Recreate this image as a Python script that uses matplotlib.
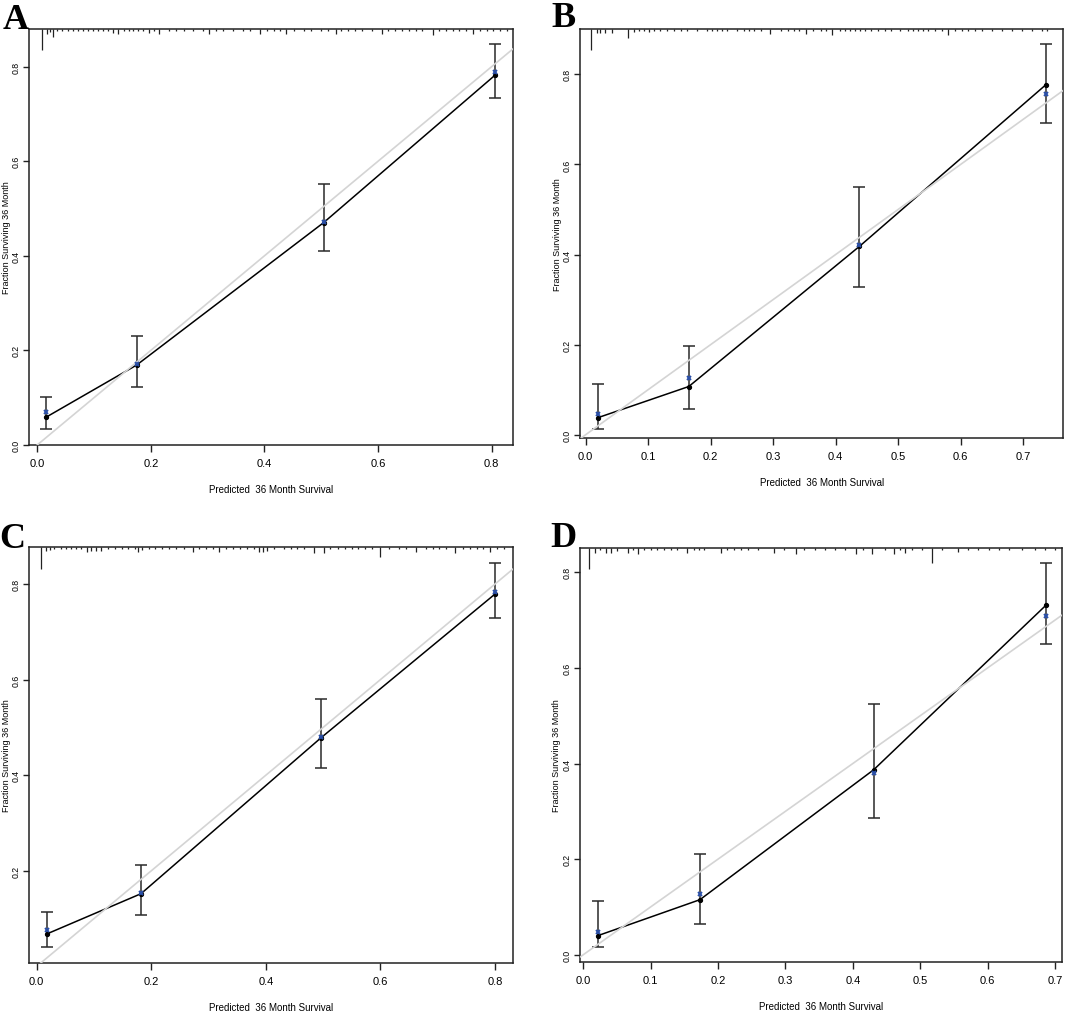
import matplotlib
matplotlib.use("Agg")
import matplotlib.pyplot as plt
import matplotlib.transforms as mtransforms
import logging
logging.getLogger("matplotlib.font_manager").setLevel(logging.ERROR)

# ---------------- data ----------------
panel_labels = ["A", "B", "C", "D"]
x_label = "Predicted  36 Month Survival"
y_label = "Fraction Surviving 36 Month"

predA = [0.016, 0.175, 0.504, 0.806]
obsA = [0.059, 0.169, 0.470, 0.782]
bcA = [0.069, 0.171, 0.472, 0.788]
loA = [0.033, 0.123, 0.411, 0.734]
hiA = [0.102, 0.230, 0.551, 0.848]

predB = [0.020, 0.165, 0.438, 0.7365]
obsB = [0.038, 0.107, 0.418, 0.777]
bcB = [0.047, 0.126, 0.421, 0.757]
loB = [0.013, 0.058, 0.328, 0.692]
hiB = [0.113, 0.197, 0.551, 0.868]

predC = [0.018, 0.182, 0.496, 0.800]
obsC = [0.068, 0.152, 0.478, 0.779]
bcC = [0.076, 0.154, 0.481, 0.783]
loC = [0.040, 0.108, 0.416, 0.729]
hiC = [0.114, 0.213, 0.559, 0.845]

predD = [0.022, 0.173, 0.431, 0.6865]
obsD = [0.040, 0.115, 0.387, 0.731]
bcD = [0.048, 0.127, 0.380, 0.709]
loD = [0.015, 0.064, 0.285, 0.651]
hiD = [0.112, 0.210, 0.524, 0.820]

xticksA = [0.0, 0.2, 0.4, 0.6, 0.8]
xticksB = [0.0, 0.1, 0.2, 0.3, 0.4, 0.5, 0.6, 0.7]
xticksC = [0.0, 0.2, 0.4, 0.6, 0.8]
xticksD = [0.0, 0.1, 0.2, 0.3, 0.4, 0.5, 0.6, 0.7]
yticksA = [0.0, 0.2, 0.4, 0.6, 0.8]
yticksB = [0.0, 0.2, 0.4, 0.6, 0.8]
yticksC = [0.2, 0.4, 0.6, 0.8]
yticksD = [0.0, 0.2, 0.4, 0.6, 0.8]

# spike histogram of predicted values (position, count)
rugA_x = [0.0089, 0.0178, 0.0225, 0.0279, 0.0356, 0.0445, 0.0535, 0.0624, 0.0713, 0.0802,
          0.0892, 0.0981, 0.107, 0.116, 0.125, 0.134, 0.143, 0.152, 0.161, 0.169, 0.178,
          0.187, 0.196, 0.205, 0.214, 0.232, 0.244, 0.259, 0.274, 0.291, 0.303, 0.315,
          0.327, 0.345, 0.363, 0.375, 0.392, 0.404, 0.416, 0.428, 0.437, 0.452, 0.470,
          0.482, 0.500, 0.511, 0.526, 0.535, 0.547, 0.559, 0.571, 0.589, 0.607, 0.618,
          0.630, 0.642, 0.654, 0.666, 0.678, 0.696, 0.708, 0.720, 0.731, 0.743, 0.755,
          0.767, 0.779, 0.791, 0.803, 0.815, 0.827]
rugA_n = [21, 5, 3, 8, 2, 2, 2, 2, 2, 2, 2, 2, 2, 2, 2, 4, 5, 2, 2, 2, 2, 2, 4, 2, 5, 2, 2,
          2, 2, 2, 5, 2, 2, 2, 2, 2, 5, 2, 2, 2, 5, 2, 2, 2, 2, 2, 5, 2, 2, 2, 2, 2, 5, 2,
          2, 2, 2, 2, 2, 6, 2, 2, 2, 2, 2, 5, 2, 2, 2, 2, 2]

rugB_x = [0.0083, 0.0180, 0.0233, 0.0313, 0.0420, 0.0672, 0.0769, 0.0849, 0.0929, 0.1010,
          0.1090, 0.1197, 0.1304, 0.1411, 0.1519, 0.1626, 0.1786, 0.1947, 0.2027, 0.2108,
          0.2188, 0.2268, 0.2429, 0.2536, 0.2617, 0.2697, 0.2804, 0.2949, 0.3126, 0.3233,
          0.3340, 0.3420, 0.3527, 0.3634, 0.3768, 0.3849, 0.3945, 0.4063, 0.4143, 0.4224,
          0.4304, 0.4384, 0.4465, 0.4572, 0.4679, 0.4786, 0.4893, 0.5027, 0.5161, 0.5241,
          0.5322, 0.5402, 0.5482, 0.5589, 0.5697, 0.5793, 0.5911, 0.6018, 0.6125, 0.6232,
          0.6339, 0.6500, 0.6661, 0.6821, 0.6982, 0.7143, 0.7303, 0.7384]
rugB_n = [21, 4, 4, 4, 4, 9, 3, 2, 2, 3, 2, 2, 2, 2, 2, 2, 2, 2, 2, 2, 2, 2, 2, 2, 2, 2, 2,
          5, 2, 2, 2, 2, 5, 2, 2, 2, 6, 2, 2, 2, 2, 2, 2, 2, 2, 2, 2, 2, 2, 2, 2, 2, 2, 2,
          2, 6, 2, 2, 2, 2, 2, 2, 2, 2, 2, 2, 2, 2]

rugC_x = [0.0079, 0.0156, 0.0232, 0.0303, 0.0421, 0.0510, 0.0598, 0.0687, 0.0775, 0.0881,
          0.0952, 0.1041, 0.1129, 0.1247, 0.1365, 0.1483, 0.1601, 0.1719, 0.1767, 0.1837,
          0.1955, 0.2073, 0.2191, 0.2310, 0.2428, 0.2575, 0.2723, 0.2841, 0.2959, 0.3077,
          0.3177, 0.3313, 0.3431, 0.3549, 0.3667, 0.3785, 0.3873, 0.3950, 0.4021, 0.4139,
          0.4316, 0.4434, 0.4552, 0.4670, 0.4847, 0.5024, 0.5113, 0.5260, 0.5378, 0.5496,
          0.5614, 0.5732, 0.5850, 0.5998, 0.6145, 0.6322, 0.6440, 0.6617, 0.6794, 0.6912,
          0.7030, 0.7148, 0.7296, 0.7443, 0.7561, 0.7679, 0.7797, 0.7915, 0.8033, 0.8151]
rugC_n = [22, 4, 3, 2, 2, 2, 2, 2, 2, 5, 4, 4, 4, 2, 2, 2, 2, 2, 5, 3, 2, 2, 2, 2, 2, 2, 5,
          2, 2, 2, 5, 2, 2, 2, 2, 2, 5, 5, 4, 2, 2, 2, 2, 2, 6, 6, 2, 2, 2, 2, 2, 2, 2, 10,
          2, 2, 2, 5, 2, 2, 2, 2, 6, 2, 2, 2, 2, 5, 2, 2]

rugD_x = [0.0088, 0.0167, 0.0252, 0.0336, 0.0410, 0.0500, 0.0659, 0.0738, 0.0813, 0.0897,
          0.0997, 0.1096, 0.1195, 0.1295, 0.1394, 0.1543, 0.1642, 0.1717, 0.1791, 0.2040,
          0.2139, 0.2238, 0.2338, 0.2437, 0.2586, 0.2834, 0.2984, 0.3157, 0.3282, 0.3431,
          0.3580, 0.3729, 0.3878, 0.4051, 0.4151, 0.4290, 0.4474, 0.4613, 0.4697, 0.4772,
          0.4871, 0.5020, 0.5179, 0.5318, 0.5566, 0.5715, 0.5865, 0.6014, 0.6163, 0.6312,
          0.6510, 0.6709, 0.6858, 0.7007]
rugD_n = [21, 5, 2, 5, 5, 3, 5, 2, 6, 2, 2, 2, 2, 2, 2, 5, 2, 2, 2, 5, 2, 2, 2, 2, 2, 5, 2,
          6, 2, 2, 2, 2, 2, 6, 2, 6, 2, 6, 2, 5, 2, 2, 15, 2, 4, 2, 2, 2, 2, 2, 2, 2, 2, 2]

# ---------------- layout / style ----------------
W, H = 1065, 1012
fig = plt.figure(figsize=(W / 100, H / 100), dpi=100)

def box(l, r, t, b):
    return [l / W, 1 - b / H, (r - l) / W, (b - t) / H]

panels = [
    dict(rect=box(29.4, 512.8, 29.7, 446.0), xlim=(-0.0137, 0.837), ylim=(0.0, 0.880),
         pred=predA, obs=obsA, bc=bcA, lo=loA, hi=hiA, xt=xticksA, yt=yticksA,
         rx=rugA_x, rn=rugA_n, letter_xy=(15.5, 29)),
    dict(rect=box(580.2, 1063.0, 29.5, 439.3), xlim=(-0.0088, 0.764), ylim=(-0.008, 0.902),
         pred=predB, obs=obsB, bc=bcB, lo=loB, hi=hiB, xt=xticksB, yt=yticksB,
         rx=rugB_x, rn=rugB_n, letter_xy=(563, 27)),
    dict(rect=box(29.3, 512.7, 547.8, 964.0), xlim=(-0.013, 0.831), ylim=(0.007, 0.878),
         pred=predC, obs=obsC, bc=bcC, lo=loC, hi=hiC, xt=xticksC, yt=yticksC,
         rx=rugC_x, rn=rugC_n, letter_xy=(12, 548)),
    dict(rect=box(580.0, 1061.7, 548.5, 963.3), xlim=(-0.005, 0.710), ylim=(-0.016, 0.852),
         pred=predD, obs=obsD, bc=bcD, lo=loD, hi=hiD, xt=xticksD, yt=yticksD,
         rx=rugD_x, rn=rugD_n, letter_xy=(563, 547)),
]

narrow = ["Liberation Sans Narrow", "Liberation Sans", "DejaVu Sans"]
plain = ["Liberation Sans", "DejaVu Sans"]

for p, letter in zip(panels, panel_labels):
    ax = fig.add_axes(p["rect"])
    ax.set_xlim(*p["xlim"])
    ax.set_ylim(*p["ylim"])
    for s in ax.spines.values():
        s.set_linewidth(1.1)
        s.set_color("#222222")

    # ideal line
    ax.axline((0, 0), slope=1, color="#d4d4d4", lw=1.2, zorder=6)
    # observed line
    ax.plot(p["pred"], p["obs"], color="black", lw=1.1, zorder=3)
    # error bars
    lo_err = [o - l for o, l in zip(p["obs"], p["lo"])]
    hi_err = [h - o for o, h in zip(p["obs"], p["hi"])]
    ax.errorbar(p["pred"], p["obs"], yerr=[lo_err, hi_err], fmt="none",
                ecolor="#2a2a2a", elinewidth=1.1, capsize=4.5, capthick=1.1, zorder=4)
    ax.plot(p["pred"], p["obs"], "o", color="black", ms=2.8, zorder=5)
    ax.plot(p["pred"], p["bc"], "x", color="#2a4fa8", ms=3.5, mew=1.4, zorder=7)

    # spike histogram at top
    trans = mtransforms.blended_transform_factory(ax.transData, ax.transAxes)
    ax_h_px = p["rect"][3] * H
    ax.vlines(p["rx"], [1 - n / ax_h_px for n in p["rn"]], 1.0, transform=trans,
              color="#222222", lw=0.9, zorder=2)

    ax.set_xticks(p["xt"])
    ax.set_xticklabels([f"{v:.1f}" for v in p["xt"]], family=narrow, fontsize=8)
    ax.set_yticks(p["yt"])
    ax.set_yticklabels([f"{v:.1f}" for v in p["yt"]], family=plain, fontsize=6.3,
                       rotation=90, va="center")
    ax.tick_params(axis="x", direction="out", length=5, width=1.0, pad=4.5, color="#222222")
    ax.tick_params(axis="y", direction="out", length=4.5, width=1.0, pad=1.5, color="#222222")

    ax.set_xlabel(x_label, family=narrow, fontsize=7)
    ax.xaxis.set_label_coords(0.5, -0.106)
    ax.xaxis.label.set_va("center")
    ax.set_ylabel(y_label, family=plain, fontsize=6.5)
    ax.yaxis.set_label_coords(-0.048, 0.5)
    ax.yaxis.label.set_va("center")

    lx, ly = p["letter_xy"]
    fig.text(lx / W, 1 - ly / H, letter, family=["Liberation Serif", "DejaVu Serif"],
             fontweight="bold", fontsize=26, ha="center", va="baseline")

fig.savefig("out.png", dpi=100)
